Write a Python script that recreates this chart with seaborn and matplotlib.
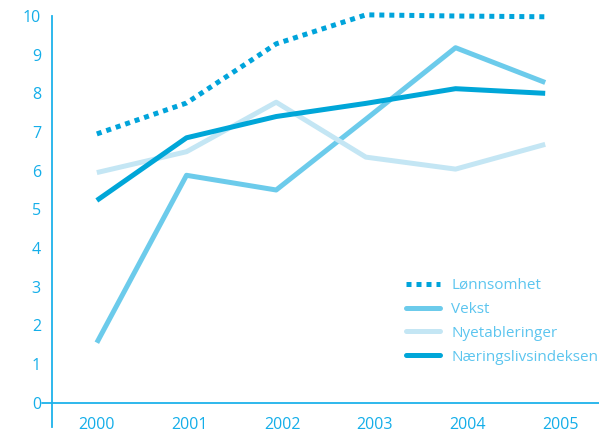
import matplotlib
matplotlib.use("Agg")
import matplotlib.pyplot as plt
from matplotlib.lines import Line2D
import pandas as pd
import seaborn as sns

years = [2000, 2001, 2002, 2003, 2004, 2005]
lonnsomhet = [6.95, 7.75, 9.28, 10.03, 10.0, 9.98]
vekst = [1.55, 5.88, 5.5, 7.33, 9.18, 8.28]
nyetableringer = [5.95, 6.49, 7.77, 6.35, 6.04, 6.68]
naeringslivsindeksen = [5.23, 6.85, 7.4, 7.74, 8.12, 8.0]

series_names = ["Lønnsomhet", "Vekst", "Nyetableringer", "Næringslivsindeksen"]
series_values = [lonnsomhet, vekst, nyetableringer, naeringslivsindeksen]
y_ticks = list(range(0, 11))

colors = {
    "Lønnsomhet": "#00a4db",
    "Vekst": "#6ccbeb",
    "Nyetableringer": "#c4e6f4",
    "Næringslivsindeksen": "#00a6d8",
}
dashes = {
    "Lønnsomhet": (1, 1),
    "Vekst": "",
    "Nyetableringer": "",
    "Næringslivsindeksen": "",
}
axis_color = "#1db2ea"
text_color = "#14aee9"
legend_text_color = "#5cc5ef"

df = pd.DataFrame(
    [(y, v, name) for name, vals in zip(series_names, series_values) for y, v in zip(years, vals)],
    columns=["År", "Verdi", "Serie"],
)

sns.set_style("white")
plt.rcParams["font.family"] = ["Open Sans", "DejaVu Sans"]

fig = plt.figure(figsize=(5.99, 4.34), dpi=100)
ax = fig.add_axes([52 / 599, 7 / 434, 547 / 599, 411 / 434])

sns.lineplot(
    data=df, x="År", y="Verdi", hue="Serie", style="Serie",
    hue_order=series_names, style_order=series_names,
    palette=colors, dashes=dashes, linewidth=3.6, legend=False, ax=ax,
    sort=False,
)
for ln in ax.get_lines():
    ln.set_dash_capstyle("butt")
    ln.set_solid_capstyle("butt")
    ln.set_clip_on(False)

ax.set_xlim(1999.5, 2005.6)
ax.set_ylim(-0.63, 10)

# frame: only the vertical axis line, plus a zero line that extends left of it
for side in ["top", "right", "bottom"]:
    ax.spines[side].set_visible(False)
ax.spines["left"].set_color(axis_color)
ax.spines["left"].set_linewidth(1.3)
ax.plot([-10 / 547, 1], [0.63 / 10.63, 0.63 / 10.63], transform=ax.transAxes,
        color=axis_color, lw=1.3, clip_on=False)

ax.set_yticks(y_ticks)
ax.set_yticklabels([str(t) for t in y_ticks])
ax.tick_params(axis="y", direction="inout", length=10, width=1.3, color=axis_color,
               labelcolor=text_color, labelsize=11.5, pad=3)

ax.set_xticks([y + 0.034 * (y - years[0]) for y in years])
ax.set_xticklabels([str(y) for y in years])
ax.tick_params(axis="x", length=0, labelcolor=text_color, labelsize=11.5, pad=-7)
ax.set_xlabel("")
ax.set_ylabel("")

handles = [
    Line2D([0], [0], color=colors[n], lw=3.6,
           linestyle=(0, (1, 1)) if dashes[n] else "-", dash_capstyle="butt")
    for n in series_names
]
leg = fig.legend(handles, series_names, loc="upper left",
                 bbox_to_anchor=(406 / 599, 1 - 278 / 434), frameon=False,
                 fontsize=11, handlelength=2.2, handletextpad=0.75,
                 labelspacing=0.58, borderpad=0, borderaxespad=0)
for t in leg.get_texts():
    t.set_color(legend_text_color)

fig.savefig("out.png", dpi=100)
